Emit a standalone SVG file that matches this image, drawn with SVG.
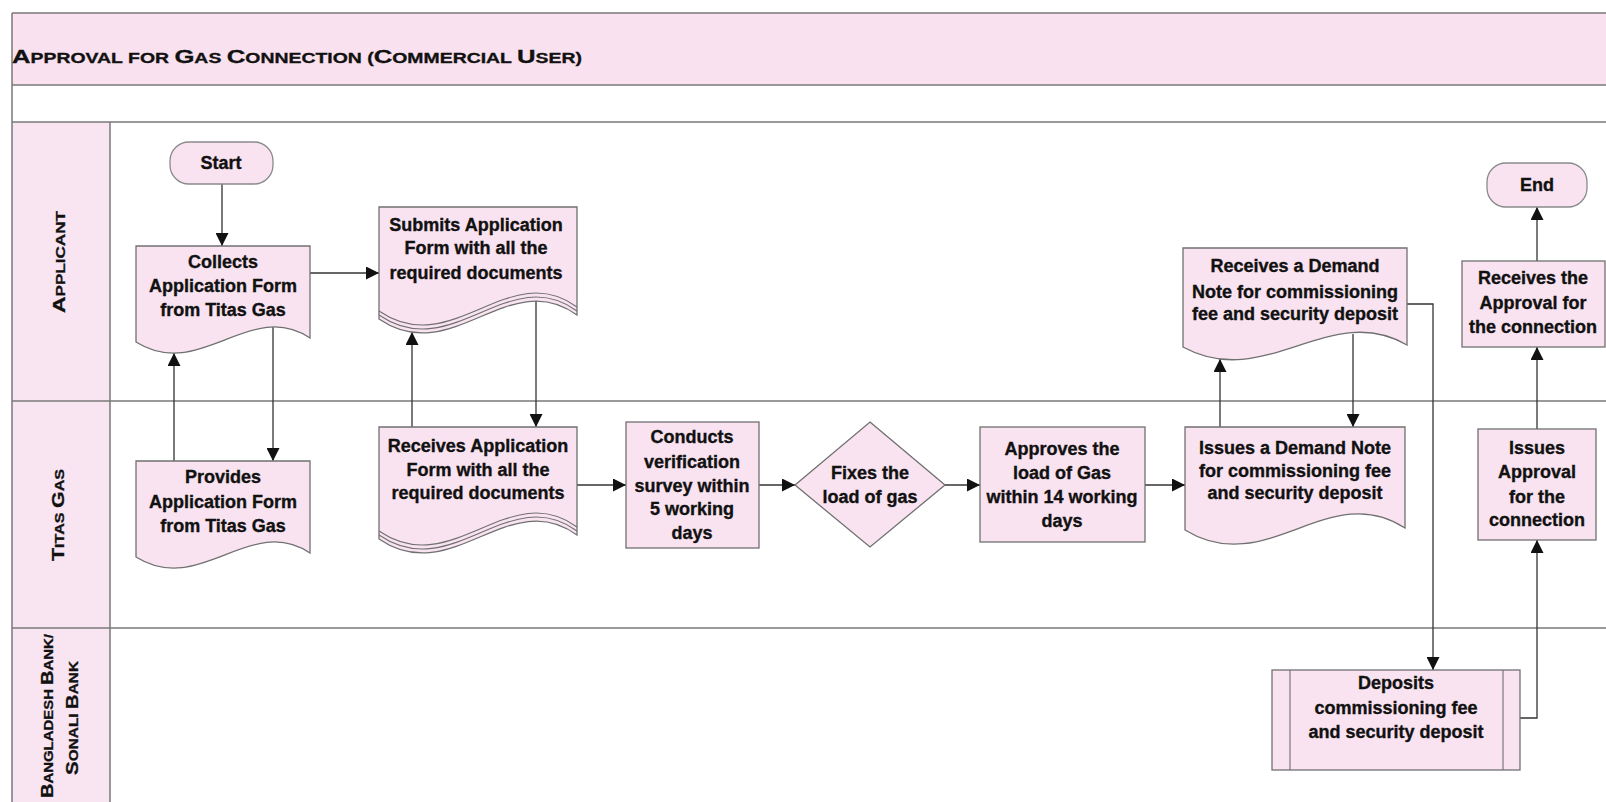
<svg xmlns="http://www.w3.org/2000/svg" xmlns:xlink="http://www.w3.org/1999/xlink" width="1606" height="802" viewBox="0 0 1606 802">
<style>
.lane{stroke:#7a7a7a;stroke-width:1.5;fill:none}
.node{fill:#f9e3f0;stroke:#707070;stroke-width:1.3}
.term{fill:#f9e3f0;stroke:#8a8a8a;stroke-width:1.3}
.wl{fill:none;stroke:#707070;stroke-width:1.1}
.t{font-family:"Liberation Sans",Arial,sans-serif;font-weight:bold;font-size:18px;fill:#111;stroke:#111;stroke-width:0.35;text-anchor:middle}
.cap{font-family:"Liberation Sans",Arial,sans-serif;font-weight:bold;fill:#111;stroke:#111;stroke-width:0.3}
.conn{fill:none;stroke:#333;stroke-width:1.3;marker-end:url(#ah)}
</style>
<defs>
<marker id="ah" markerUnits="userSpaceOnUse" markerWidth="13" markerHeight="13" refX="13" refY="6.5" orient="auto">
<path d="M0,0 L13,6.5 L0,13 Z" fill="#111"/>
</marker>
<g id="multidoc">
<path class="node" d="M0,0 H198 V108 C130,58 73,162 0,112 Z"/>
<path class="wl" d="M198,104 C130,54 73,158 0,108"/>
<path class="wl" d="M198,100 C130,50 73,154 0,104"/>
</g>
</defs>
<rect width="1606" height="802" fill="#ffffff"/>
<g id="frame">
<rect x="12" y="13" width="1600" height="72" fill="#f9e1ef"/>
<rect x="12" y="122" width="98" height="690" fill="#f9e5f2"/>
<path class="lane" d="M12,13 H1606 M12,85 H1606 M12,122 H1606 M12,401 H1606 M12,628 H1606 M12,13 V802 M110,122 V802"/>
<text class="cap" x="12" y="63" font-size="18.5" textLength="570" lengthAdjust="spacingAndGlyphs">A<tspan font-size="14">PPROVAL FOR </tspan>G<tspan font-size="14">AS </tspan>C<tspan font-size="14">ONNECTION (</tspan>C<tspan font-size="14">OMMERCIAL </tspan>U<tspan font-size="14">SER)</tspan></text>
</g>
<g id="lane-applicant">
<text class="cap" transform="translate(59,262) rotate(-90)" x="-51" y="6" font-size="16" textLength="102" lengthAdjust="spacingAndGlyphs">A<tspan font-size="12">PPLICANT</tspan></text>
</g>
<g id="lane-titas">
<text class="cap" transform="translate(58,515) rotate(-90)" x="-46" y="6" font-size="16" textLength="92" lengthAdjust="spacingAndGlyphs">T<tspan font-size="12">ITAS </tspan>G<tspan font-size="12">AS</tspan></text>
</g>
<g id="lane-bank">
<text class="cap" transform="translate(47,716) rotate(-90)" x="-82" y="6" font-size="16" textLength="164" lengthAdjust="spacingAndGlyphs">B<tspan font-size="12">ANGLADESH </tspan>B<tspan font-size="12">ANK/</tspan></text>
<text class="cap" transform="translate(72,718) rotate(-90)" x="-57" y="6" font-size="16" textLength="114" lengthAdjust="spacingAndGlyphs">S<tspan font-size="12">ONALI </tspan>B<tspan font-size="12">ANK</tspan></text>
</g>
<g id="connectors">
<path class="conn" d="M222,184 V246"/>
<path class="conn" d="M310,273 H379"/>
<path class="conn" d="M273,327 V461"/>
<path class="conn" d="M174,461 V353"/>
<path class="conn" d="M412,427 V332"/>
<path class="conn" d="M536,301 V427"/>
<path class="conn" d="M577,485 H626"/>
<path class="conn" d="M759,485 H795"/>
<path class="conn" d="M945,485 H980"/>
<path class="conn" d="M1145,485 H1185"/>
<path class="conn" d="M1220,427 V359"/>
<path class="conn" d="M1353,334 V427"/>
<path class="conn" d="M1407,304 H1433 V670"/>
<path class="conn" d="M1520,718 H1537 V540"/>
<path class="conn" d="M1537,429 V347"/>
<path class="conn" d="M1537,261 V207"/>
</g>
<g id="start">
<rect class="term" x="170" y="142" width="103" height="42" rx="19"/>
<text class="t" x="221" y="169">Start</text>
</g>
<g id="collects">
<path class="node" d="M136,246 H310 V338 C250,298 200,382 136,342 Z"/>
<text class="t" x="223" y="268">Collects</text>
<text class="t" x="223" y="292">Application Form</text>
<text class="t" x="223" y="316">from Titas Gas</text>
</g>
<g id="submits">
<use xlink:href="#multidoc" transform="translate(379,207)"/>
<text class="t" x="476" y="231">Submits Application</text>
<text class="t" x="476" y="254">Form with all the</text>
<text class="t" x="476" y="279">required documents</text>
</g>
<g id="provides">
<path class="node" d="M136,461 H310 V553 C250,513 200,597 136,557 Z"/>
<text class="t" x="223" y="483">Provides</text>
<text class="t" x="223" y="508">Application Form</text>
<text class="t" x="223" y="532">from Titas Gas</text>
</g>
<g id="receives-application">
<use xlink:href="#multidoc" transform="translate(379,427)"/>
<text class="t" x="478" y="452">Receives Application</text>
<text class="t" x="478" y="476">Form with all the</text>
<text class="t" x="478" y="499">required documents</text>
</g>
<g id="conducts">
<rect class="node" x="626" y="422" width="133" height="126"/>
<text class="t" x="692" y="443">Conducts</text>
<text class="t" x="692" y="468">verification</text>
<text class="t" x="692" y="492">survey within</text>
<text class="t" x="692" y="515">5 working</text>
<text class="t" x="692" y="539">days</text>
</g>
<g id="fixes">
<path class="node" d="M870,422 L945,485 L870,547 L795,485 Z"/>
<text class="t" x="870" y="479">Fixes the</text>
<text class="t" x="870" y="503">load of gas</text>
</g>
<g id="approves">
<rect class="node" x="980" y="427" width="165" height="115"/>
<text class="t" x="1062" y="455">Approves the</text>
<text class="t" x="1062" y="479">load of Gas</text>
<text class="t" x="1062" y="503">within 14 working</text>
<text class="t" x="1062" y="527">days</text>
</g>
<g id="issues-demand">
<path class="node" d="M1185,427 H1405 V528 C1329,478 1266,580 1185,530 Z"/>
<text class="t" x="1295" y="454">Issues a Demand Note</text>
<text class="t" x="1295" y="477">for commissioning fee</text>
<text class="t" x="1295" y="499">and security deposit</text>
</g>
<g id="receives-demand">
<path class="node" d="M1183,248 H1407 V345 C1330,300 1265,392 1183,347 Z"/>
<text class="t" x="1295" y="272">Receives a Demand</text>
<text class="t" x="1295" y="298">Note for commissioning</text>
<text class="t" x="1295" y="320">fee and security deposit</text>
</g>
<g id="deposits">
<rect class="node" x="1272" y="670" width="248" height="100"/>
<path class="wl" d="M1290,670 V770 M1503,670 V770"/>
<text class="t" x="1396" y="689">Deposits</text>
<text class="t" x="1396" y="714">commissioning fee</text>
<text class="t" x="1396" y="738">and security deposit</text>
</g>
<g id="issues-approval">
<rect class="node" x="1478" y="429" width="118" height="111"/>
<text class="t" x="1537" y="454">Issues</text>
<text class="t" x="1537" y="478">Approval</text>
<text class="t" x="1537" y="503">for the</text>
<text class="t" x="1537" y="526">connection</text>
</g>
<g id="receives-approval">
<rect class="node" x="1462" y="261" width="143" height="86"/>
<text class="t" x="1533" y="284">Receives the</text>
<text class="t" x="1533" y="309">Approval for</text>
<text class="t" x="1533" y="333">the connection</text>
</g>
<g id="end">
<rect class="term" x="1487" y="163" width="100" height="44" rx="19"/>
<text class="t" x="1537" y="191">End</text>
</g>
</svg>
